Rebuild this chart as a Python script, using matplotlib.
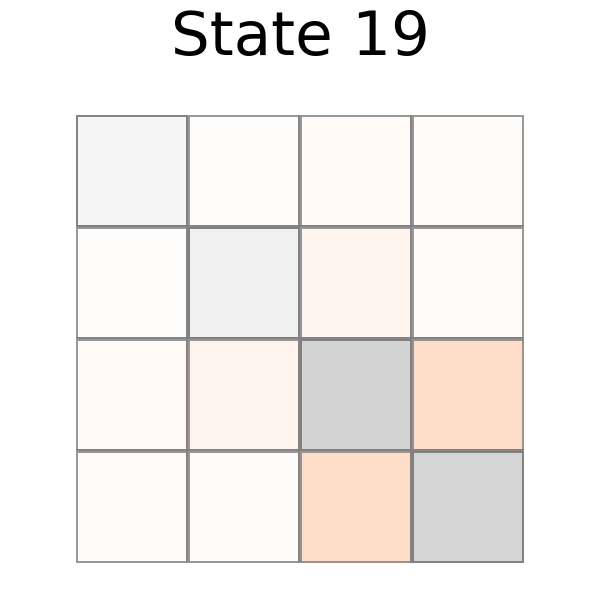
import numpy as np
import matplotlib
matplotlib.use("Agg")
import matplotlib.pyplot as plt
from matplotlib.colors import LinearSegmentedColormap

# populations (diagonal) and coherence magnitudes (off-diagonal)
populations = [0.085, 0.125, 0.28, 0.27]
coherences = {
    (0, 1): 0.015, (0, 2): 0.04, (0, 3): 0.035,
    (1, 2): 0.085, (1, 3): 0.03,
    (2, 3): 0.25,
}
title = "State 19"

n = len(populations)
diag = np.full((n, n), np.nan)
off = np.full((n, n), np.nan)
for i, p in enumerate(populations):
    diag[i, i] = p
for (i, j), v in coherences.items():
    off[i, j] = v
    off[j, i] = v

orange_map = LinearSegmentedColormap.from_list("w2o", ["white", "#f77323"])
edge = (0.5, 0.5, 0.5, 0.8)

fig = plt.figure(figsize=(6, 6), dpi=100)
ax = fig.add_axes([76 / 600, 37 / 600, 448 / 600, 448 / 600])

ax.pcolormesh(np.ma.masked_invalid(diag), cmap="Greys", vmin=0, vmax=1,
              edgecolors=[edge], linewidth=1.6)
ax.pcolormesh(np.ma.masked_invalid(off), cmap=orange_map, vmin=0, vmax=1,
              edgecolors=[edge], linewidth=1.6)

ax.set_xlim(0, n)
ax.set_ylim(n, 0)
ax.set_aspect("equal")
ax.axis("off")

fig.text(0.5, 1 - 55 / 600, title, ha="center", va="baseline", fontsize=44)

fig.savefig("out.png", dpi=100)
